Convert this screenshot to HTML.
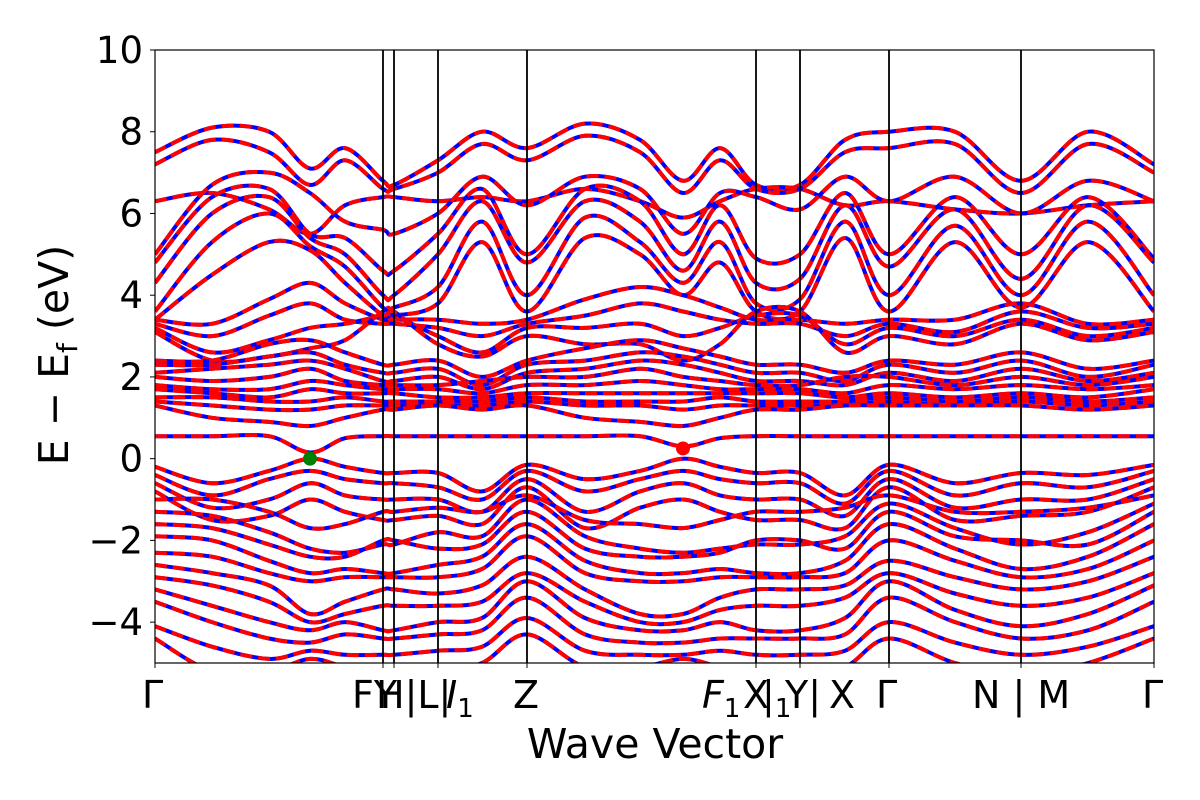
<!DOCTYPE html>
<html><head><meta charset="utf-8"><style>
body{margin:0;background:#fff;}
svg{display:block;font-family:"DejaVu Sans","Liberation Sans",sans-serif;}
</style></head><body>
<svg id="chart" width="1200" height="800" viewBox="0 0 1200 800" xmlns="http://www.w3.org/2000/svg">
<defs><clipPath id="pc"><rect x="155" y="50" width="999" height="613"/></clipPath></defs>
<g id="bands" clip-path="url(#pc)"></g>
<g id="axes"></g>
<text x="655" y="758" font-size="41" text-anchor="middle">Wave Vector</text>
<text transform="translate(68,355) rotate(-90)" font-size="41" text-anchor="middle">E − E<tspan font-size="28" dy="9">f</tspan><tspan dy="-9"> (eV)</tspan></text>
</svg>
<script>
const kpts=[0,0.57,1.14,1.55,1.9,2.28,2.39,2.83,3.27,3.72,4.3,4.85,5.28,5.65,6.01,6.45,6.9,7.34,8.0,8.66,9.33,9.99];
const symK=[0,2.28,2.39,2.83,3.72,6.01,6.45,7.34,8.66,9.99];
const yTicks=[-4,-2,0,2,4,6,8,10];
const bandT1=[7.5,8.1,8.0,7.1,7.6,6.8,6.7,7.3,8.0,7.6,8.2,7.8,6.8,7.6,6.7,6.7,7.8,8.0,8.0,6.8,8.0,7.2];
const bandT2=[7.2,7.8,7.5,6.7,7.3,6.6,6.6,7.0,7.7,7.3,7.9,7.5,6.5,7.3,6.6,6.6,7.5,7.6,7.7,6.5,7.7,7.0];
const bandU1=[6.3,6.5,6.1,5.5,6.2,6.4,6.4,6.3,6.4,6.3,6.6,6.3,5.9,6.3,6.6,6.6,6.2,6.3,6.1,6.0,6.2,6.3];
const bandU2=[5.0,6.7,7.0,6.5,5.8,5.6,5.5,6.0,6.9,6.2,6.9,6.6,5.5,6.5,6.4,6.1,6.9,6.3,6.9,6.0,6.8,6.3];
const bandU3=[4.8,6.4,6.6,5.5,5.4,4.6,4.6,5.5,6.6,5.0,6.6,6.3,5.0,6.2,4.9,5.0,6.5,5.0,6.4,5.0,6.4,4.9];
const bandU4=[4.3,6.0,6.4,5.4,5.0,4.0,4.0,5.0,6.3,4.8,6.3,5.8,4.6,5.8,4.3,4.4,6.2,4.7,6.1,4.4,6.2,4.8];
const bandU5=[3.6,5.3,6.0,5.2,4.7,3.7,3.7,4.2,5.8,4.0,5.9,5.3,4.3,5.3,3.8,3.9,5.8,4.0,5.7,4.0,5.8,4.0];
const bandU6=[3.4,4.5,5.3,5.1,4.3,3.5,3.5,3.8,5.3,3.6,5.4,5.0,4.0,4.8,3.6,3.6,5.4,3.6,5.3,3.7,5.3,3.6];
const bandM1=[3.4,3.3,3.9,4.3,3.8,3.4,3.4,3.4,3.3,3.4,3.9,4.2,4.0,3.7,3.4,3.4,3.3,3.4,3.4,3.8,3.3,3.4];
const bandM2=[3.3,3.0,3.5,3.8,3.4,3.3,3.3,3.2,3.0,3.3,3.5,3.8,3.6,3.4,3.3,3.3,3.0,3.3,3.1,3.6,3.2,3.3];
const bandM3=[3.2,2.6,2.9,3.2,3.3,3.5,3.5,3.0,2.6,3.2,3.2,3.3,3.0,3.2,3.5,3.5,2.8,3.2,3.0,3.4,3.0,3.2];
const bandM4=[3.1,2.4,2.5,2.7,2.9,3.6,3.6,2.8,2.5,3.0,2.8,2.8,2.4,2.8,3.6,3.6,2.6,3.0,2.8,3.3,2.9,3.1];
const bandC1=[2.4,2.4,2.8,2.9,2.6,2.3,2.3,2.4,2.0,2.4,2.7,2.9,2.7,2.5,2.3,2.3,2.1,2.4,2.3,2.6,2.2,2.4];
const bandC2=[2.3,2.3,2.5,2.6,2.3,2.1,2.1,2.2,1.8,2.3,2.4,2.6,2.5,2.3,2.1,2.1,1.9,2.3,2.1,2.4,2.0,2.3];
const bandC3=[2.1,2.2,2.3,2.4,2.2,1.9,1.9,2.0,1.7,2.1,2.2,2.4,2.3,2.1,1.9,1.9,1.8,2.1,1.9,2.2,1.9,2.1];
const bandC4=[2.0,1.9,2.0,2.2,1.9,1.8,1.8,1.8,1.9,2.0,2.0,2.2,2.0,1.9,1.8,1.8,2.0,2.0,1.8,2.0,1.8,2.0];
const bandC5=[1.8,1.7,1.7,1.9,1.8,1.7,1.7,1.7,1.6,1.8,1.8,1.9,1.8,1.7,1.7,1.7,1.6,1.8,1.7,1.8,1.7,1.8];
const bandC6=[1.7,1.6,1.5,1.7,1.6,1.6,1.6,1.5,1.5,1.6,1.6,1.6,1.6,1.6,1.6,1.6,1.5,1.6,1.5,1.6,1.5,1.7];
const bandC7=[1.5,1.5,1.4,1.4,1.5,1.4,1.4,1.4,1.4,1.5,1.4,1.4,1.4,1.5,1.4,1.4,1.4,1.5,1.4,1.5,1.4,1.5];
const bandC8=[1.4,1.3,1.2,1.2,1.3,1.3,1.3,1.3,1.3,1.4,1.3,1.3,1.2,1.3,1.3,1.3,1.3,1.4,1.3,1.4,1.3,1.4];
const bandC9=[1.3,1.0,0.9,0.8,1.0,1.2,1.2,1.3,1.2,1.3,1.0,0.9,0.8,1.0,1.2,1.2,1.3,1.3,1.3,1.3,1.2,1.3];
const bandF=[0.55,0.55,0.55,0.15,0.5,0.55,0.55,0.55,0.55,0.55,0.55,0.55,0.3,0.5,0.55,0.55,0.55,0.55,0.55,0.55,0.55,0.55];
const bandV1=[-0.2,-0.6,-0.3,0,-0.2,-0.35,-0.35,-0.35,-0.8,-0.15,-0.5,-0.3,0,-0.2,-0.35,-0.35,-0.9,-0.15,-0.6,-0.35,-0.4,-0.15];
const bandV2=[-0.4,-0.9,-0.5,-0.3,-0.5,-0.6,-0.6,-0.7,-1.0,-0.3,-0.8,-0.5,-0.3,-0.5,-0.6,-0.6,-1.1,-0.3,-0.9,-0.6,-0.7,-0.3];
const bandV3=[-0.6,-1.2,-1.0,-0.6,-0.9,-1.0,-1.0,-1.0,-1.3,-0.5,-1.3,-0.8,-0.6,-0.9,-1.0,-1.0,-1.4,-0.5,-1.2,-1.0,-1.0,-0.5];
const bandV4=[-0.8,-1.5,-1.4,-1.0,-1.3,-1.5,-1.5,-1.4,-1.6,-0.7,-1.7,-1.2,-1.0,-1.3,-1.5,-1.5,-1.7,-0.7,-1.5,-1.4,-1.3,-0.7];
const bandV5=[-1.0,-1.0,-1.3,-1.7,-1.6,-1.3,-1.3,-1.2,-1.3,-0.9,-1.5,-1.6,-1.7,-1.5,-1.3,-1.3,-1.2,-0.9,-1.3,-1.3,-1.2,-0.9];
const bandV6=[-1.3,-1.4,-1.8,-2.2,-2.3,-2.1,-2.1,-1.8,-1.9,-1.0,-1.9,-2.2,-2.3,-2.2,-2.1,-2.1,-1.9,-1.1,-1.7,-2.1,-1.8,-1.1];
const bandV7=[-1.6,-1.7,-2.1,-2.4,-2.4,-2.0,-2.0,-2.2,-2.1,-1.3,-2.2,-2.4,-2.4,-2.3,-2.0,-2.0,-2.2,-1.3,-1.9,-2.0,-2.1,-1.3];
const bandV8=[-1.9,-2.0,-2.5,-2.8,-2.7,-2.8,-2.8,-2.6,-2.4,-1.6,-2.5,-2.8,-2.8,-2.7,-2.8,-2.8,-2.5,-1.6,-2.2,-2.7,-2.4,-1.6];
const bandV9=[-2.3,-2.4,-2.8,-3.0,-2.9,-2.9,-2.9,-2.9,-2.7,-1.9,-2.8,-3.0,-3.0,-2.9,-2.9,-2.9,-2.8,-2.0,-2.5,-2.9,-2.7,-2.0];
const bandV10=[-2.6,-2.8,-3.1,-3.8,-3.5,-3.2,-3.2,-3.3,-3.1,-2.4,-3.2,-3.8,-3.8,-3.4,-3.2,-3.2,-3.1,-2.5,-2.9,-3.2,-3.0,-2.4];
const bandV11=[-2.9,-3.1,-3.5,-4.0,-3.8,-3.6,-3.6,-3.6,-3.5,-2.8,-3.5,-4.0,-4.0,-3.7,-3.6,-3.6,-3.4,-2.8,-3.3,-3.6,-3.4,-2.8];
const bandV12=[-3.2,-3.6,-4.0,-4.2,-4.0,-4.2,-4.2,-4.0,-3.9,-3.0,-3.9,-4.2,-4.2,-4.0,-4.2,-4.2,-3.9,-3.0,-3.7,-4.1,-3.8,-3.1];
const bandV13=[-3.5,-4.0,-4.4,-4.5,-4.3,-4.4,-4.4,-4.3,-4.2,-3.4,-4.3,-4.5,-4.5,-4.4,-4.4,-4.4,-4.3,-3.4,-4.0,-4.4,-4.2,-3.5];
const bandV14=[-4.1,-4.6,-4.9,-4.7,-4.8,-4.8,-4.8,-4.7,-4.6,-3.9,-4.7,-4.8,-4.8,-4.7,-4.8,-4.8,-4.7,-4.0,-4.5,-4.8,-4.6,-4.1];
const bandV15=[-4.4,-5.2,-5.2,-4.9,-5.1,-5.3,-5.3,-5.2,-5.0,-4.3,-5.1,-5.1,-4.9,-5.1,-5.3,-5.3,-5.1,-4.4,-5.0,-5.3,-5.0,-4.4];
const vbm=[1.55,0.0];
const cbm=[5.28,0.25];

const NS="http://www.w3.org/2000/svg";
const X0=155,X1=1154,Y0=663,Y1=50,KMAX=9.99,EMIN=-5,EMAX=10;
function xs(k){return X0+(k/KMAX)*(X1-X0);}
function ys(e){return Y0-(e-EMIN)/(EMAX-EMIN)*(Y0-Y1);}
const bands=[bandT1,bandT2,bandU1,bandU2,bandU3,bandU4,bandU5,bandU6,bandM1,bandM2,bandM3,bandM4,bandC1,bandC2,bandC3,bandC4,bandC5,bandC6,bandC7,bandC8,bandC9,bandF,bandV1,bandV2,bandV3,bandV4,bandV5,bandV6,bandV7,bandV8,bandV9,bandV10,bandV11,bandV12,bandV13,bandV14,bandV15];
function pathFor(vals){
  const p=kpts.map((k,i)=>[xs(k),ys(vals[i])]);
  let d="M"+p[0][0].toFixed(1)+","+p[0][1].toFixed(1);
  for(let i=0;i<p.length-1;i++){
    const p0=p[Math.max(0,i-1)],p1=p[i],p2=p[i+1],p3=p[Math.min(p.length-1,i+2)];
    const c1=[p1[0]+(p2[0]-p0[0])/6,p1[1]+(p2[1]-p0[1])/6];
    const c2=[p2[0]-(p3[0]-p1[0])/6,p2[1]-(p3[1]-p1[1])/6];
    d+="C"+c1[0].toFixed(1)+","+c1[1].toFixed(1)+" "+c2[0].toFixed(1)+","+c2[1].toFixed(1)+" "+p2[0].toFixed(1)+","+p2[1].toFixed(1);
  }
  return d;
}
const g=document.getElementById("bands");
bands.forEach((b,i)=>{
  const d=pathFor(b);
  const blue=document.createElementNS(NS,"path");
  
  
  blue.setAttribute("d",d);blue.setAttribute("fill","none");blue.setAttribute("stroke","#0000ff");blue.setAttribute("stroke-width","4");
  g.appendChild(blue);
  const red=document.createElementNS(NS,"path");
  
  
  red.setAttribute("d",d);red.setAttribute("fill","none");red.setAttribute("stroke","#ff0000");red.setAttribute("stroke-width","4");red.setAttribute("stroke-dasharray","12,6");
  g.appendChild(red);
});
function circ(pt,col,name){
  const c=document.createElementNS(NS,"circle");
  
  
  c.setAttribute("cx",xs(pt[0]));c.setAttribute("cy",ys(pt[1]));c.setAttribute("r","7");c.setAttribute("fill",col);
  g.appendChild(c);
}
circ(vbm,"#008000","vbm-marker");
circ(cbm,"#ff0000","cbm-marker");

const ax=document.getElementById("axes");
symK.slice(1,-1).forEach(k=>{
  const l=document.createElementNS(NS,"line");
  
  
  l.setAttribute("x1",xs(k));l.setAttribute("x2",xs(k));l.setAttribute("y1",Y1);l.setAttribute("y2",Y0);
  l.setAttribute("stroke","#000");l.setAttribute("stroke-width","1.8");
  ax.appendChild(l);
});
const fr=document.createElementNS(NS,"rect");


fr.setAttribute("x",X0);fr.setAttribute("y",Y1);fr.setAttribute("width",X1-X0);fr.setAttribute("height",Y0-Y1);
fr.setAttribute("fill","none");fr.setAttribute("stroke","#000");fr.setAttribute("stroke-width","1.2");
ax.appendChild(fr);
yTicks.forEach(v=>{
  const t=document.createElementNS(NS,"line");
  
  
  t.setAttribute("x1",X0-5);t.setAttribute("x2",X0);t.setAttribute("y1",ys(v));t.setAttribute("y2",ys(v));t.setAttribute("stroke","#000");
  ax.appendChild(t);
  const tx=document.createElementNS(NS,"text");
  
  
  tx.setAttribute("x",X0-12);tx.setAttribute("y",ys(v)+13);tx.setAttribute("text-anchor","end");tx.setAttribute("font-size","37");
  tx.textContent=v<0?"−"+Math.abs(v):String(v);
  ax.appendChild(tx);
});
symK.forEach(k=>{
  const t=document.createElementNS(NS,"line");
  
  
  t.setAttribute("x1",xs(k));t.setAttribute("x2",xs(k));t.setAttribute("y1",Y0);t.setAttribute("y2",Y0+5);t.setAttribute("stroke","#000");
  ax.appendChild(t);
});
const xl=[[142,"Γ"],[352,"FY"],[376,"H|L|"],[446,"<tspan font-style='italic'>I</tspan><tspan font-size='26' dy='9'>1</tspan>"],[513,"Z"],[702,"<tspan font-style='italic'>F</tspan><tspan font-size='26' dy='9'>1</tspan>"],[743,"X"],[762,"|<tspan font-size='26' dy='9'>1</tspan>"],[785,"Y|"],[829,"X"],[876,"Γ"],[972,"N | M"],[1142,"Γ"]];
xl.forEach(([x,s])=>{
  const tx=document.createElementNS(NS,"text");
  
  
  tx.setAttribute("x",x);tx.setAttribute("y",708);tx.setAttribute("font-size","38");
  tx.innerHTML=s;
  ax.appendChild(tx);
});
</script>
</body></html>
